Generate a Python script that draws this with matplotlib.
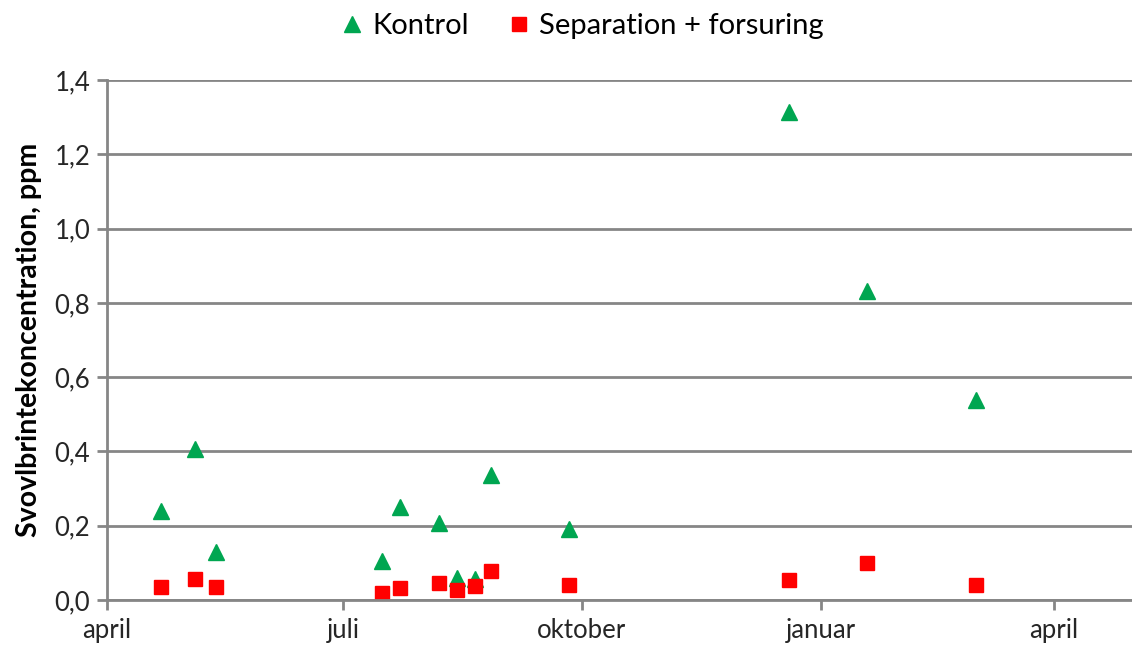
import numpy as np
import pandas as pd
import matplotlib as mpl
import matplotlib.pyplot as plt
from matplotlib.ticker import FuncFormatter

mpl.rcParams['font.family'] = ['Lato', 'DejaVu Sans']

# data
dates = pd.to_datetime([
    "2013-04-22", "2013-05-05", "2013-05-13", "2013-07-16", "2013-07-23",
    "2013-08-07", "2013-08-14", "2013-08-21", "2013-08-27", "2013-09-26",
    "2013-12-20", "2014-01-19", "2014-03-02"])
kontrol = [0.24, 0.407, 0.13, 0.105, 0.25, 0.207, 0.06, 0.057, 0.337, 0.19,
           1.314, 0.832, 0.538]
separation = [0.035, 0.057, 0.035, 0.019, 0.032, 0.046, 0.027, 0.038, 0.078,
              0.04, 0.054, 0.1, 0.04]
tick_dates = pd.to_datetime(["2013-04-01", "2013-07-01", "2013-10-01",
                             "2014-01-01", "2014-04-01"])
tick_labels = ["april", "juli", "oktober", "januar", "april"]

fig = plt.figure(figsize=(11.32, 6.49), dpi=100)
ax = fig.add_axes([0.0945, 0.0755, 0.9055, 0.801])

ax.plot(dates, kontrol, linestyle='none', marker='^', markersize=11,
        color='#00a651', label='Kontrol')
ax.plot(dates, separation, linestyle='none', marker='s', markersize=9.5,
        color='#ff0000', label='Separation + forsuring')

ax.set_xlim(pd.Timestamp("2013-04-01"), pd.Timestamp("2014-05-01"))
ax.set_ylim(0, 1.4)
ax.set_yticks(np.arange(0, 1.41, 0.2))
ax.yaxis.set_major_formatter(FuncFormatter(lambda v, p: f"{v:.1f}".replace('.', ',')))
ax.set_xticks(tick_dates)
ax.set_xticklabels(tick_labels)

ax.set_ylabel('Svovlbrintekoncentration, ppm', fontsize=20.5, fontweight='bold',
              labelpad=9)

# spines
for s in ['top', 'right']:
    ax.spines[s].set_visible(False)
for s in ['left', 'bottom']:
    ax.spines[s].set_color('#868686')
    ax.spines[s].set_linewidth(2)

ax.grid(axis='y', color='#868686', linewidth=2)
ax.set_axisbelow(True)
ax.tick_params(axis='both', labelsize=18.5, color='#868686', width=2, length=7,
               direction='out', labelcolor='#262626')
ax.tick_params(axis='x', pad=6)
ax.tick_params(axis='y', pad=5)

fig.legend(loc='upper center', bbox_to_anchor=(0.513, 1.02), ncol=2,
           frameon=False, fontsize=21, handletextpad=0.2, columnspacing=1.2,
           handlelength=1.0)

fig.savefig('out.png', dpi=100, facecolor='white')
